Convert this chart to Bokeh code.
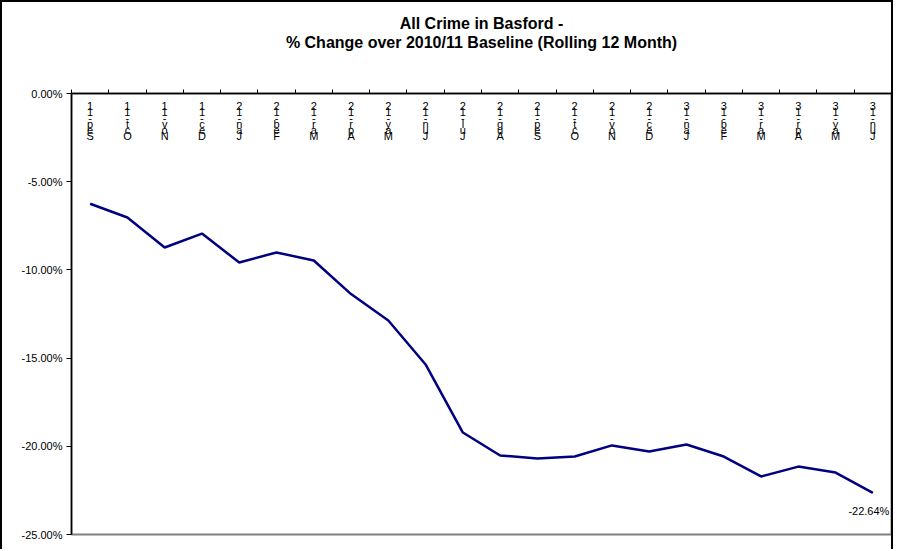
from bokeh.plotting import figure
from bokeh.models import ColumnDataSource, FixedTicker, LinearAxis, Range1d, Title
from bokeh.core.properties import value
from bokeh.embed import file_html
from bokeh.resources import INLINE

title_line1 = "All Crime in Basford -"
title_line2 = "% Change over 2010/11 Baseline (Rolling 12 Month)"
months = ["Sep-11", "Oct-11", "Nov-11", "Dec-11", "Jan-12", "Feb-12", "Mar-12",
          "Apr-12", "May-12", "Jun-12", "Jul-12", "Aug-12", "Sep-12", "Oct-12",
          "Nov-12", "Dec-12", "Jan-13", "Feb-13", "Mar-13", "Apr-13", "May-13", "Jun-13"]
pct_change = [-6.25, -7.03, -8.73, -7.94, -9.58, -9.01, -9.47, -11.37, -12.87, -15.36,
              -19.22, -20.52, -20.69, -20.58, -19.95, -20.29, -19.90, -20.58, -21.71,
              -21.15, -21.49, -22.64]
y_ticks = [0, -5, -10, -15, -20, -25]

FONT = "Liberation Sans"

xs = [i + 0.5 for i in range(len(months))]
src = ColumnDataSource(dict(x=xs, y=pct_change))
lab_src = ColumnDataSource(dict(
    x=xs, y=[0] * len(months),
    t=["\n".join(reversed(m)) for m in months]))

p = figure(width=893, height=549, output_backend="svg", toolbar_location=None,
           title=None,
           x_range=Range1d(0, len(months)), y_range=Range1d(-25, 0),
           x_axis_location=None, y_axis_location=None,
           min_border_left=69, min_border_right=4, min_border_bottom=17, min_border_top=91)
p.styles = {"border-style": "solid", "border-color": "black",
            "border-width": "2px 2px 0px 2px"}
p.background_fill_color = "white"
p.border_fill_color = "white"
p.outline_line_color = "#808080"
p.outline_line_width = 2
p.xgrid.visible = False
p.ygrid.visible = False

yax = LinearAxis(ticker=FixedTicker(ticks=y_ticks))
yax.major_label_overrides = {t: f"{t:.2f}%" for t in y_ticks}
yax.major_label_text_font = FONT
yax.major_label_text_font_size = "11px"
yax.major_label_text_color = "black"
yax.major_tick_out = 5
yax.major_tick_in = 0
yax.minor_tick_out = 0
yax.minor_tick_in = 0
yax.axis_line_width = 1.5
yax.major_label_standoff = 4
p.add_layout(yax, "left")

xax = LinearAxis(ticker=FixedTicker(ticks=list(range(len(months) + 1))))
xax.major_label_text_font_size = "0px"
xax.major_label_text_alpha = 0
xax.major_tick_out = 4
xax.major_tick_in = 0
xax.minor_tick_out = 0
xax.minor_tick_in = 0
xax.axis_line_width = 1.5
xax.major_label_standoff = 0
xax.axis_label = "x"
xax.axis_label_text_alpha = 0
xax.axis_label_text_font_size = "10px"
xax.axis_label_standoff = 25
p.add_layout(xax, "above")

t2 = Title(text=title_line2, align="center", text_font=FONT, text_font_size="16px",
           text_font_style="bold", text_color="black", standoff=0, text_line_height=1.0)
t1 = Title(text=title_line1, align="center", text_font=FONT, text_font_size="16px",
           text_font_style="bold", text_color="black", standoff=0, text_line_height=1.0)
p.add_layout(t2, "above")
p.add_layout(t1, "above")

p.line("x", "y", source=src, line_color="#000080", line_width=2.5)

p.text("x", "y", text="t", source=lab_src, text_font=value(FONT), text_font_size="11px",
       text_align="center", text_baseline="top", text_line_height=0.5, y_offset=6,
       text_color="black")

last = ColumnDataSource(dict(x=[xs[-1]], y=[pct_change[-1]], t=[f"{pct_change[-1]:.2f}%"]))
p.text("x", "y", text="t", source=last, text_font=value(FONT), text_font_size="11px",
       text_align="center", text_baseline="middle", x_offset=-4, y_offset=18,
       text_color="black")

open("out.html", "w").write(file_html(p, INLINE))
